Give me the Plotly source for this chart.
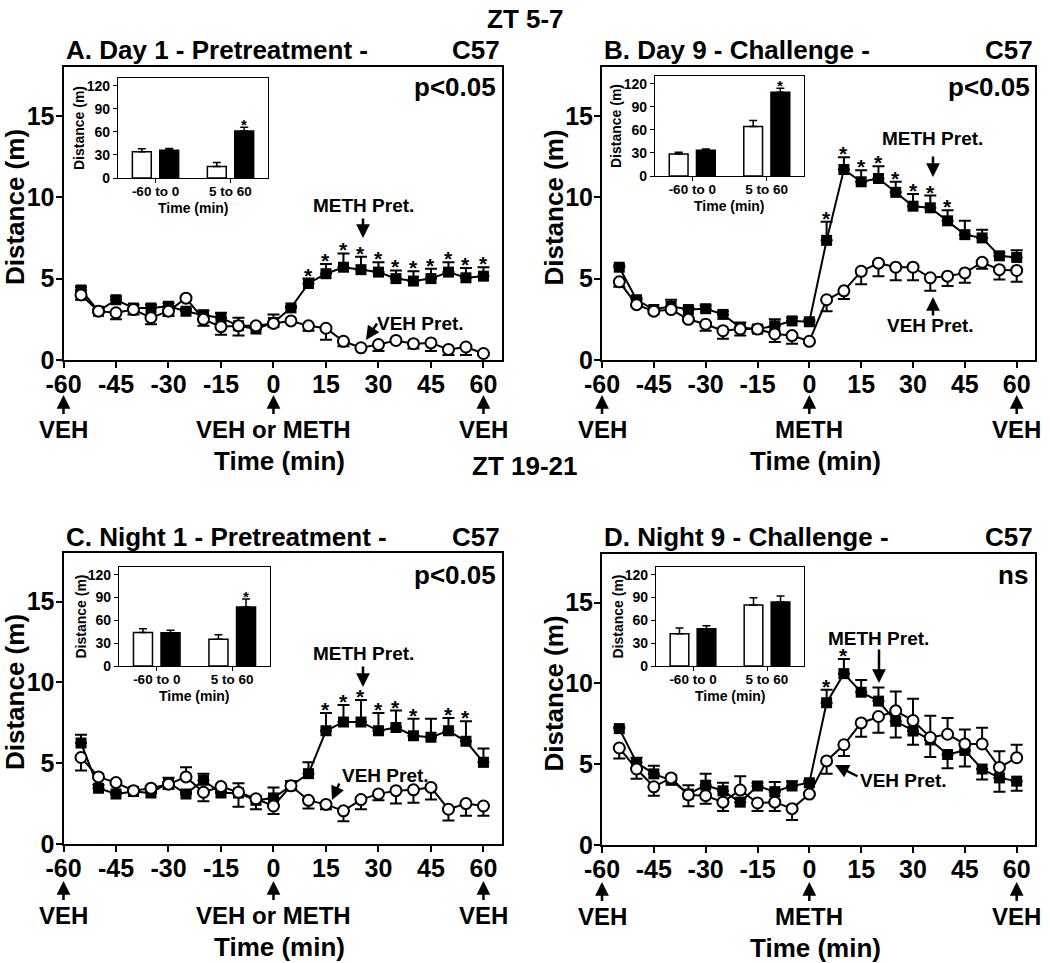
import plotly.graph_objects as go

FONT = "Arial, 'Liberation Sans', sans-serif"
W, H = 1050, 963

# ---------------- data ----------------
time_min = [-55, -50, -45, -40, -35, -30, -25, -20, -15, -10, -5, 0,
            5, 10, 15, 20, 25, 30, 35, 40, 45, 50, 55, 60]
x_tick_vals = [-60, -45, -30, -15, 0, 15, 30, 45, 60]
x_tick_text = ["-60", "-45", "-30", "-15", "0", "15", "30", "45", "60"]
y_tick_vals = [0, 5, 10, 15]
inset_cats = ["-60 to 0", "5 to 60"]
inset_ticks = [0, 30, 60, 90, 120]

# signed error values: positive = bar drawn upward, negative = drawn downward
a_meth = [4.3, 3.0, 3.7, 3.2, 3.2, 3.3, 3.0, 2.75, 2.6, 2.1, 1.9, 2.3, 3.2, 4.7, 5.3, 5.7, 5.55, 5.4, 5.0, 4.85, 5.0, 5.4, 5.05, 5.15]
a_meth_err = [0.2, 0.1, 0.2, 0.2, 0.2, 0.2, 0.15, 0.3, 0.3, 0.5, 0.1, 0.5, 0.1, 0.3, 0.6, 0.85, 0.8, 0.6, 0.5, 0.6, 0.6, 0.6, 0.6, 0.55]
a_veh = [4.0, 3.0, 2.9, 3.1, 2.6, 3.0, 3.8, 2.5, 2.05, 2.1, 2.1, 2.25, 2.4, 2.1, 1.95, 1.15, 0.75, 0.95, 1.2, 1.0, 1.05, 0.65, 0.8, 0.4]
a_veh_err = [-0.3, -0.1, -0.4, -0.3, -0.4, -0.3, -0.1, -0.4, -0.5, -0.6, -0.2, -0.2, -0.1, -0.3, -0.7, -0.3, -0.1, -0.4, -0.1, -0.3, -0.5, -0.35, -0.5, -0.1]
a_stars = [10, 15, 20, 25, 30, 35, 40, 45, 50, 55, 60]

b_meth = [5.7, 3.7, 3.1, 3.3, 3.1, 3.15, 2.8, 2.0, 1.9, 2.1, 2.4, 2.35, 7.35, 11.7, 10.95, 11.15, 10.3, 9.45, 9.35, 8.55, 7.7, 7.5, 6.4, 6.3]
b_meth_err = [0.1, 0.1, 0.1, 0.4, 0.1, 0.2, 0.2, 0.3, 0.2, 0.4, 0.2, 0.1, 1.15, 0.75, 0.7, 0.75, 0.65, 0.75, 0.75, 0.65, 0.85, 0.5, 0.2, 0.45]
b_veh = [4.8, 3.4, 3.0, 3.1, 2.5, 2.2, 1.8, 1.9, 1.9, 1.6, 1.5, 1.15, 3.7, 4.25, 5.45, 5.95, 5.7, 5.7, 5.05, 5.15, 5.35, 6.0, 5.55, 5.5]
b_veh_err = [-0.3, -0.1, -0.1, -0.1, -0.1, -0.4, -0.5, -0.4, -0.2, -0.5, -0.5, -0.1, -0.7, -0.5, -0.8, -0.8, -0.8, -0.8, -0.8, -0.6, -0.6, -0.4, -0.6, -0.7]
b_stars = [5, 10, 15, 20, 25, 30, 35, 40]

c_meth = [6.25, 3.45, 3.1, 3.25, 3.15, 3.8, 3.1, 3.95, 3.15, 3.15, 2.7, 2.85, 3.6, 4.35, 7.0, 7.55, 7.55, 7.0, 7.2, 6.7, 6.6, 7.0, 6.35, 5.05]
c_meth_err = [0.5, 0.2, 0.1, 0.1, 0.1, 0.3, 0.1, 0.4, 0.1, 0.6, 0.1, 0.65, 0.3, 0.7, 1.1, 1.05, 1.35, 1.1, 1.05, 1.05, 1.15, 0.8, 1.25, 0.85]
c_veh = [5.35, 4.15, 3.8, 3.3, 3.45, 3.7, 4.15, 3.2, 3.55, 3.2, 2.8, 2.35, 3.6, 2.7, 2.45, 2.05, 2.75, 3.1, 3.3, 3.35, 3.5, 2.15, 2.5, 2.35]
c_veh_err = [-0.8, -0.1, -0.1, -0.1, -0.1, -0.3, 0.6, -0.55, -0.1, -0.9, -0.65, -0.5, -0.2, -0.5, -0.3, -0.65, -0.6, -0.4, -0.8, -0.8, -0.75, -0.7, -0.75, -0.6]
c_stars = [15, 20, 25, 30, 35, 40, 50, 55]

d_meth = [7.2, 5.1, 4.4, 4.0, 3.15, 3.7, 3.35, 2.65, 3.65, 3.3, 3.65, 3.85, 8.8, 10.6, 9.45, 8.9, 7.65, 7.05, 6.5, 5.6, 5.85, 4.7, 4.15, 3.95]
d_meth_err = [0.1, 0.3, 0.5, 0.3, 0.55, 0.7, 0.5, 0.2, 0.2, 0.6, 0.3, 0.1, 0.8, 0.9, 0.75, 0.85, -1.0, -0.85, -1.05, -0.85, -1.0, -0.65, -0.85, -0.6]
d_veh = [6.0, 4.7, 3.6, 4.15, 3.1, 3.05, 2.65, 3.4, 2.6, 2.65, 2.25, 3.15, 5.2, 6.2, 7.55, 7.95, 8.3, 7.7, 6.65, 6.85, 6.25, 6.25, 4.8, 5.4]
d_veh_err = [-0.65, -0.6, -0.55, -0.1, -0.7, -0.5, -0.55, 0.85, -0.5, -0.55, -0.7, -0.1, -0.8, -0.7, -0.85, -1.0, 1.2, 1.35, 1.35, 1.0, 0.9, 1.0, 1.0, 0.8]
d_stars = [5, 10]

# inset bar charts (total distance, m)
a_inset_veh = [34, 15]
a_inset_veh_err = [4, 5]
a_inset_meth = [36, 61]
a_inset_meth_err = [2.5, 5]
b_inset_veh = [28.5, 64.5]
b_inset_veh_err = [2.5, 7.5]
b_inset_meth = [33.5, 109]
b_inset_meth_err = [1.5, 5]
c_inset_veh = [44, 35]
c_inset_veh_err = [5, 6]
c_inset_meth = [43.5, 77.5]
c_inset_meth_err = [3.5, 10.5]
d_inset_veh = [42.5, 80]
d_inset_veh_err = [7.5, 9.5]
d_inset_meth = [49, 84]
d_inset_meth_err = [4, 8]

# ---------------- helpers ----------------
def X(p):
    return p / W


def Y(p):
    return 1 - p / H


def fnt(size):
    return dict(family=FONT, size=size, color="black", weight="bold")


def label(x, y, text, size, xanchor="center", yanchor="middle", angle=0):
    return dict(x=X(x), y=Y(y), xref="paper", yref="paper", text=text, showarrow=False,
                xanchor=xanchor, yanchor=yanchor, textangle=angle, font=fnt(size))


panels = [
    dict(title="A. Day 1 - Pretreatment -", stat="p<0.05", meth=a_meth, meth_err=a_meth_err,
         veh=a_veh, veh_err=a_veh_err, stars=a_stars,
         iv=a_inset_veh, ive=a_inset_veh_err, im=a_inset_meth, ime=a_inset_meth_err, istar=True,
         left=63.5, right=502, top=67, bottom=360, inset=(118, 268, 78, 178),
         drug="VEH or METH", statx=498, staty=87, titley=50, low=0,
         meth_lab=(363, 206), meth_arrow=((363, 217), (363, 238)),
         veh_lab=(420, 323), veh_arrow=((378, 322), (366, 340))),
    dict(title="B. Day 9 - Challenge -", stat="p<0.05", meth=b_meth, meth_err=b_meth_err,
         veh=b_veh, veh_err=b_veh_err, stars=b_stars,
         iv=b_inset_veh, ive=b_inset_veh_err, im=b_inset_meth, ime=b_inset_meth_err, istar=True,
         left=602, right=1035, top=67, bottom=360, inset=(655, 804, 76, 176),
         drug="METH", statx=1032, staty=87, titley=50, low=0,
         meth_lab=(932, 139), meth_arrow=((933, 155), (933, 177)),
         veh_lab=(930, 325), veh_arrow=((933, 317), (933, 297))),
    dict(title="C. Night 1 - Pretreatment -", stat="p<0.05", meth=c_meth, meth_err=c_meth_err,
         veh=c_veh, veh_err=c_veh_err, stars=c_stars,
         iv=c_inset_veh, ive=c_inset_veh_err, im=c_inset_meth, ime=c_inset_meth_err, istar=True,
         left=63.5, right=502, top=553, bottom=844, inset=(119, 270, 567, 666),
         drug="VEH or METH", statx=498, staty=575, titley=537, low=2,
         meth_lab=(363, 653), meth_arrow=((363, 665), (363, 687)),
         veh_lab=(385, 775), veh_arrow=((340, 782), (332, 800))),
    dict(title="D. Night 9 - Challenge -", stat="ns", meth=d_meth, meth_err=d_meth_err,
         veh=d_veh, veh_err=d_veh_err, stars=d_stars,
         iv=d_inset_veh, ive=d_inset_veh_err, im=d_inset_meth, ime=d_inset_meth_err, istar=False,
         left=602, right=1035, top=554, bottom=845, inset=(656, 804, 567, 666),
         drug="METH", statx=1030, staty=575, titley=537, low=2,
         meth_lab=(878, 638), meth_arrow=((879, 648), (879, 683)),
         veh_lab=(903, 780), veh_arrow=((859, 777), (835, 765))),
]

fig = go.Figure()
layout = dict(
    width=W, height=H, margin=dict(l=0, r=0, t=0, b=0, pad=0),
    paper_bgcolor="white", plot_bgcolor="white", showlegend=False,
    template="none", barmode="group", bargap=0.27, bargroupgap=0.31,
    font=dict(family=FONT, color="black"),
)
ann = []


def split(errs):
    up = [e if e > 0 else 0 for e in errs]
    dn = [-e if e < 0 else 0 for e in errs]
    return up, dn


for i, p in enumerate(panels):
    n = i + 1
    xa = "x" if n == 1 else f"x{n}"
    ya = "y" if n == 1 else f"y{n}"
    xa_l = "xaxis" if n == 1 else f"xaxis{n}"
    ya_l = "yaxis" if n == 1 else f"yaxis{n}"
    m = n + 4
    ixa, iya = f"x{m}", f"y{m}"

    # main axes
    layout[xa_l] = dict(domain=[X(p["left"]), X(p["right"])], range=[-60, 65.3], anchor=ya,
                        tickmode="array", tickvals=x_tick_vals, ticktext=x_tick_text,
                        ticks="outside", ticklen=6, tickwidth=2, tickcolor="black",
                        ticklabelstandoff=-5,
                        showline=True, linewidth=2, linecolor="black", mirror=True,
                        showgrid=False, zeroline=False, tickfont=fnt(25), fixedrange=True)
    layout[ya_l] = dict(domain=[Y(p["bottom"]), Y(p["top"])], range=[0, 18], anchor=xa,
                        tickmode="array", tickvals=y_tick_vals,
                        ticks="outside", ticklen=6, tickwidth=2, tickcolor="black",
                        ticklabelstandoff=-4,
                        showline=True, linewidth=2, linecolor="black", mirror=True,
                        showgrid=False, zeroline=False, tickfont=fnt(25), fixedrange=True)

    mu, md = split(p["meth_err"])
    vu, vd = split(p["veh_err"])
    fig.add_trace(go.Scatter(x=time_min, y=p["meth"], mode="lines+markers", xaxis=xa, yaxis=ya,
                             line=dict(color="black", width=2),
                             marker=dict(symbol="square", size=11, color="black"),
                             error_y=dict(type="data", symmetric=False, array=mu, arrayminus=md,
                                          color="black", thickness=2, width=6)))
    fig.add_trace(go.Scatter(x=time_min, y=p["veh"], mode="lines+markers", xaxis=xa, yaxis=ya,
                             line=dict(color="black", width=2),
                             marker=dict(symbol="circle", size=11, color="white",
                                         line=dict(color="black", width=2)),
                             error_y=dict(type="data", symmetric=False, array=vu, arrayminus=vd,
                                          color="black", thickness=2, width=6)))

    # stars above METH error bars
    for t in p["stars"]:
        k = time_min.index(t)
        top = p["meth"][k] + max(p["meth_err"][k], 0)
        ann.append(dict(x=t, y=top, xref=xa, yref=ya, text="*", showarrow=False,
                        xanchor="center", yanchor="bottom", yshift=-10, font=fnt(21)))

    # inset
    il, ir, it, ib = p["inset"]
    layout[f"xaxis{m}"] = dict(domain=[X(il), X(ir)], anchor=iya, type="category",
                               range=[-0.5, 1.5], ticks="outside", ticklen=4, tickwidth=1.2,
                               ticklabelstandoff=-3,
                               tickcolor="black", showline=True, linewidth=1.2, linecolor="black",
                               mirror=True, showgrid=False, zeroline=False, tickfont=fnt(13.5),
                               fixedrange=True)
    layout[f"yaxis{m}"] = dict(domain=[Y(ib), Y(it)], anchor=ixa, range=[0, 130],
                               tickmode="array", tickvals=inset_ticks, ticks="outside",
                               ticklen=4, tickwidth=1.2, tickcolor="black", showline=True,
                               linewidth=1.2, linecolor="black", mirror=True, showgrid=False,
                               zeroline=False, tickfont=fnt(14), fixedrange=True)
    fig.add_trace(go.Bar(x=inset_cats, y=p["iv"], xaxis=ixa, yaxis=iya,
                         marker=dict(color="white", line=dict(color="black", width=1.5)),
                         error_y=dict(type="data", symmetric=False, array=p["ive"],
                                      arrayminus=[0, 0], color="black", thickness=1.5, width=4)))
    fig.add_trace(go.Bar(x=inset_cats, y=p["im"], xaxis=ixa, yaxis=iya,
                         marker=dict(color="black", line=dict(color="black", width=1.5)),
                         error_y=dict(type="data", symmetric=False, array=p["ime"],
                                      arrayminus=[0, 0], color="black", thickness=1.5, width=4)))
    if p["istar"]:
        slot = (ir - il) / 2 * (1 - 0.27) / 2
        ann.append(dict(x=inset_cats[1], y=p["im"][1] + p["ime"][1], xref=ixa, yref=iya,
                        text="*", showarrow=False, xanchor="center", yanchor="bottom",
                        yshift=-8, xshift=slot / 2, font=fnt(15)))
    ann.append(label(il - 39, (it + ib) / 2, "Distance (m)", 14, angle=-90))
    ann.append(label((il + ir) / 2, ib + 30, "Time (min)", 14))

    # titles and labels
    ann.append(label(p["left"], p["titley"], p["title"], 26, xanchor="left"))
    ann.append(label(p["right"], p["titley"], "C57", 26, xanchor="right"))
    ann.append(label(p["statx"], p["staty"], p["stat"], 26, xanchor="right"))
    ann.append(label(p["left"] - 49, (p["top"] + p["bottom"]) / 2 - 6, "Distance (m)", 26,
                     angle=-90))
    xzero = p["left"] + (p["right"] - p["left"]) * 60 / 125.3
    ann.append(label(xzero + 6, p["bottom"] + 101 + p["low"], "Time (min)", 26))

    # pointer labels
    ann.append(label(p["meth_lab"][0], p["meth_lab"][1], "METH Pret.", 19))
    ann.append(label(p["veh_lab"][0], p["veh_lab"][1], "VEH Pret.", 19))
    for (tail, tip) in (p["meth_arrow"], p["veh_arrow"]):
        ann.append(dict(x=X(tip[0]), y=Y(tip[1]), xref="paper", yref="paper", text="",
                        showarrow=True, ax=tail[0] - tip[0], ay=tail[1] - tip[1],
                        arrowhead=2, arrowsize=1.1, arrowwidth=2.5, arrowcolor="black",
                        standoff=0))

    # injection arrows below x-axis
    for xv, lab in ((-60, "VEH"), (0, p["drug"]), (60, "VEH")):
        ann.append(dict(x=xv, y=Y(p["bottom"] + 35 + p["low"]), xref=xa, yref="paper", text=lab,
                        showarrow=True, ax=0, ay=34, arrowhead=2, arrowsize=1.1,
                        arrowwidth=2.5, arrowcolor="black", standoff=0, font=fnt(24)))

ann.append(label(525, 19, "ZT 5-7", 26))
ann.append(label(525, 466, "ZT 19-21", 26))

layout["annotations"] = ann
fig.update_layout(**layout)
fig.write_html("out.html", config={"displayModeBar": False},
               post_script="document.body.style.margin='0';document.body.style.overflow='hidden';")
